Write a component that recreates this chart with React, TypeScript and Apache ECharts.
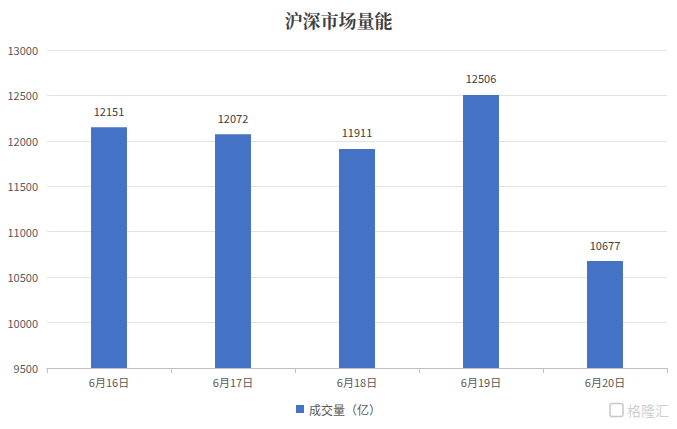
import React, { useEffect, useRef } from "react";
import * as echarts from "echarts";

const categories = ["6月16日", "6月17日", "6月18日", "6月19日", "6月20日"];
const volumes = [12151, 12072, 11911, 12506, 10677];
const seriesName = "成交量（亿）";
const titleText = "沪深市场量能";

export default function App() {
  const ref = useRef<HTMLDivElement>(null);
  useEffect(() => {
    const chart = echarts.init(ref.current!, null, { renderer: "svg" });
    const font = "'Microsoft YaHei', 'Noto Sans CJK SC', sans-serif";
    chart.setOption({
      animation: false,
      backgroundColor: "#ffffff",
      title: {
        text: titleText,
        left: "center",
        top: 6,
        textStyle: {
          fontFamily: "'Noto Serif CJK SC', 'Noto Sans CJK SC', serif",
          fontSize: 18,
          fontWeight: "bold",
          color: "#404040",
        },
      },
      legend: {
        bottom: 9,
        left: "center",
        itemWidth: 8,
        itemHeight: 8,
        itemGap: 4,
        icon: "rect",
        textStyle: { fontFamily: font, fontSize: 12, color: "#595959" },
        data: [seriesName],
      },
      grid: { left: 47, right: 10, top: 50, bottom: 61, containLabel: false },
      xAxis: {
        type: "category",
        data: categories,
        axisLine: { lineStyle: { color: "#bfbfbf" } },
        axisTick: { show: true, length: 5, lineStyle: { color: "#bfbfbf" } },
        axisLabel: { fontFamily: font, fontSize: 11, color: "#595959", margin: 8 },
      },
      yAxis: {
        type: "value",
        min: 9500,
        max: 13000,
        interval: 500,
        axisLine: { show: false },
        axisTick: { show: false },
        splitLine: { lineStyle: { color: "#e3e3e3" } },
        axisLabel: {
          fontFamily: font,
          fontSize: 11,
          color: "#595959",
          margin: 9,
          formatter: (v: number) => String(v),
        },
      },
      series: [
        {
          name: seriesName,
          type: "bar",
          data: volumes,
          barWidth: "29%",
          itemStyle: { color: "#4472c4" },
          label: {
            show: true,
            position: "top",
            distance: 11,
            fontFamily: font,
            fontSize: 11,
            color: "#404040",
          },
        },
      ],
      graphic: [
        {
          type: "group",
          right: 8,
          bottom: 10,
          children: [
            {
              type: "rect",
              shape: { x: 0, y: 0, width: 13, height: 13, r: 2 },
              style: { fill: "none", stroke: "#c8c8c8", lineWidth: 1.5 },
            },
            {
              type: "text",
              x: 17,
              y: -1,
              style: {
                text: "格隆汇",
                fontFamily: font,
                fontSize: 14,
                fill: "#cfcfcf",
              },
            },
          ],
        },
      ],
    });
    return () => chart.dispose();
  }, []);
  return (
    <div
      ref={ref}
      style={{ position: "fixed", left: 0, top: 0, width: 677, height: 429 }}
    />
  );
}
